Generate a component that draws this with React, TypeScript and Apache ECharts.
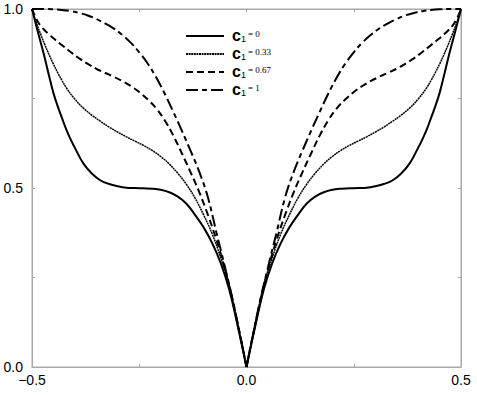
import React, { useEffect, useRef } from "react";
import * as echarts from "echarts";

const xTickLabels = ["−0.5", "0.0", "0.5"];
const yTickLabels = ["0.0", "0.5", "1.0"];

const seriesNames = ["0", "0.33", "0.67", "1"];

// c1 = 0
const c0Left: [number, number][] = [
  [-0.5, 1.0], [-0.49, 0.953], [-0.48, 0.908], [-0.47, 0.862], [-0.46, 0.812], [-0.45, 0.765],
  [-0.44, 0.728], [-0.43, 0.695], [-0.42, 0.663], [-0.41, 0.636], [-0.4, 0.612], [-0.38, 0.568],
  [-0.36, 0.54], [-0.34, 0.521], [-0.32, 0.511], [-0.3, 0.505], [-0.28, 0.501], [-0.26, 0.5],
  [-0.24, 0.499], [-0.22, 0.498], [-0.2, 0.495], [-0.18, 0.488], [-0.16, 0.476], [-0.14, 0.456],
  [-0.12, 0.425], [-0.1, 0.39], [-0.08, 0.346], [-0.06, 0.29], [-0.04, 0.215], [-0.02, 0.112],
  [-0.01, 0.057], [0, 0],
];
const c0Right: [number, number][] = [
  [0, 0], [0.01, 0.057], [0.02, 0.112], [0.04, 0.215], [0.06, 0.29], [0.08, 0.346], [0.1, 0.39],
  [0.12, 0.425], [0.14, 0.456], [0.16, 0.476], [0.18, 0.488], [0.2, 0.495], [0.22, 0.498],
  [0.24, 0.499], [0.26, 0.5], [0.28, 0.501], [0.3, 0.505], [0.32, 0.511], [0.34, 0.521],
  [0.36, 0.54], [0.38, 0.568], [0.4, 0.612], [0.41, 0.636], [0.42, 0.663], [0.43, 0.695],
  [0.44, 0.728], [0.45, 0.765], [0.46, 0.812], [0.47, 0.862], [0.48, 0.908], [0.49, 0.953],
  [0.5, 1.0],
];

// c1 = 0.33
const c33Left: [number, number][] = [
  [-0.5, 1.0], [-0.49, 0.962], [-0.48, 0.93], [-0.47, 0.9], [-0.46, 0.872], [-0.45, 0.846],
  [-0.44, 0.822], [-0.43, 0.8], [-0.42, 0.78], [-0.4, 0.748], [-0.38, 0.723], [-0.36, 0.703],
  [-0.34, 0.686], [-0.32, 0.67], [-0.3, 0.656], [-0.28, 0.643], [-0.26, 0.631], [-0.24, 0.619],
  [-0.22, 0.605], [-0.2, 0.588], [-0.18, 0.567], [-0.16, 0.541], [-0.14, 0.51], [-0.12, 0.472],
  [-0.1, 0.425], [-0.08, 0.372], [-0.06, 0.305], [-0.04, 0.228], [-0.02, 0.118], [-0.01, 0.06],
  [0, 0],
];
const c33Right: [number, number][] = [
  [0, 0], [0.01, 0.06], [0.02, 0.118], [0.04, 0.228], [0.06, 0.305], [0.08, 0.372], [0.1, 0.425],
  [0.12, 0.472], [0.14, 0.51], [0.16, 0.541], [0.18, 0.567], [0.2, 0.588], [0.22, 0.605],
  [0.24, 0.619], [0.26, 0.631], [0.28, 0.643], [0.3, 0.656], [0.32, 0.67], [0.34, 0.686],
  [0.36, 0.703], [0.38, 0.723], [0.4, 0.748], [0.42, 0.78], [0.43, 0.8], [0.44, 0.822],
  [0.45, 0.846], [0.46, 0.872], [0.47, 0.9], [0.48, 0.93], [0.49, 0.962], [0.5, 1.0],
];

// c1 = 0.67
const c67Left: [number, number][] = [
  [-0.5, 1.0], [-0.49, 0.972], [-0.48, 0.953], [-0.47, 0.94], [-0.46, 0.929], [-0.45, 0.918],
  [-0.43, 0.899], [-0.41, 0.88], [-0.39, 0.862], [-0.37, 0.847], [-0.35, 0.833], [-0.33, 0.822],
  [-0.31, 0.811], [-0.29, 0.799], [-0.27, 0.785], [-0.25, 0.768], [-0.23, 0.747], [-0.21, 0.722],
  [-0.19, 0.688], [-0.17, 0.645], [-0.15, 0.595], [-0.13, 0.543], [-0.11, 0.488], [-0.09, 0.425],
  [-0.07, 0.355], [-0.05, 0.272], [-0.03, 0.172], [-0.01, 0.06], [0, 0],
];
const c67Right: [number, number][] = [
  [0, 0], [0.01, 0.06], [0.03, 0.172], [0.05, 0.272], [0.07, 0.355], [0.09, 0.425], [0.11, 0.488],
  [0.13, 0.543], [0.15, 0.595], [0.17, 0.645], [0.19, 0.688], [0.21, 0.722], [0.23, 0.747],
  [0.25, 0.768], [0.27, 0.785], [0.29, 0.799], [0.31, 0.811], [0.33, 0.822], [0.35, 0.833],
  [0.37, 0.847], [0.39, 0.862], [0.41, 0.88], [0.43, 0.899], [0.45, 0.918], [0.46, 0.929],
  [0.47, 0.94], [0.48, 0.953], [0.49, 0.972], [0.5, 1.0],
];

// c1 = 1
const c1Left: [number, number][] = [
  [-0.5, 1.0], [-0.47, 1.0], [-0.45, 0.999], [-0.43, 0.997], [-0.41, 0.994], [-0.39, 0.989],
  [-0.37, 0.982], [-0.35, 0.972], [-0.33, 0.96], [-0.31, 0.946], [-0.29, 0.928], [-0.27, 0.906],
  [-0.25, 0.879], [-0.23, 0.847], [-0.21, 0.808], [-0.19, 0.762], [-0.17, 0.711], [-0.15, 0.658],
  [-0.13, 0.603], [-0.11, 0.545], [-0.09, 0.474], [-0.07, 0.375], [-0.05, 0.278], [-0.03, 0.176],
  [-0.01, 0.06], [0, 0],
];
const c1Right: [number, number][] = [
  [0, 0], [0.01, 0.06], [0.03, 0.176], [0.05, 0.278], [0.07, 0.375], [0.09, 0.474], [0.11, 0.545],
  [0.13, 0.603], [0.15, 0.658], [0.17, 0.711], [0.19, 0.762], [0.21, 0.808], [0.23, 0.847],
  [0.25, 0.879], [0.27, 0.906], [0.29, 0.928], [0.31, 0.946], [0.33, 0.96], [0.35, 0.972],
  [0.37, 0.982], [0.39, 0.989], [0.41, 0.994], [0.43, 0.997], [0.45, 0.999], [0.47, 1.0],
  [0.5, 1.0],
];

const FRAME = "#a8a8a8";
const FONT = "Liberation Sans";

function labelFor(v: number, labels: string[], min: number) {
  const k = Math.round((v - min) / 0.5);
  if (Math.abs(v - (min + k * 0.5)) > 1e-6) return "";
  return labels[k] ?? "";
}

export default function App() {
  const ref = useRef<HTMLDivElement>(null);
  useEffect(() => {
    if (!ref.current) return;
    const chart = echarts.init(ref.current, undefined, { renderer: "svg" });

    const styles = [
      { width: 2, type: "solid" as any },
      { width: 1.5, type: [2, 0.6] as any },
      { width: 2, type: [7, 4] as any },
      { width: 2, type: [12, 4, 5, 4] as any },
    ];
    const halves = [
      [c0Left, c0Right],
      [c33Left, c33Right],
      [c67Left, c67Right],
      [c1Left, c1Right],
    ];
    const series: any[] = [];
    halves.forEach((pair, i) => {
      pair.forEach((data) => {
        series.push({
          type: "line",
          name: seriesNames[i],
          data,
          symbol: "none",
          showSymbol: false,
          smooth: 0.4,
          lineStyle: { color: "#000", width: styles[i].width, type: styles[i].type },
          itemStyle: { color: "#000" },
          z: 5 - i,
        });
      });
    });

    const axisCommon = {
      type: "value" as const,
      min: -0.5,
      max: 0.5,
      interval: 0.25,
      splitLine: { show: false },
      axisLine: { show: true, onZero: false, lineStyle: { color: FRAME, width: 1 } },
      axisTick: { show: true, inside: true, length: 3, lineStyle: { color: FRAME } },
    };

    chart.setOption({
      animation: false,
      grid: {
        left: 32,
        top: 9,
        right: 16,
        bottom: 28,
        show: true,
        borderColor: FRAME,
        borderWidth: 1,
      },
      legend: {
        data: seriesNames,
        orient: "vertical",
        left: 185,
        top: 27,
        padding: 0,
        itemWidth: 38,
        itemHeight: 14,
        itemGap: 2,
        selectedMode: false,
        itemStyle: { color: "rgba(0,0,0,0)", borderColor: "rgba(0,0,0,0)", borderWidth: 0, opacity: 0 },
        formatter: (name: string) => `{c|c}{s|1}{p|= ${name}}`,
        textStyle: {
          color: "#000",
          rich: {
            c: {
              fontFamily: FONT,
              fontWeight: "bold",
              fontSize: 16,
              color: "#000",
              lineHeight: 14,
              verticalAlign: "bottom",
              padding: [0, 0, 0, 3],
            },
            s: {
              fontFamily: FONT,
              fontSize: 9,
              color: "#000",
              lineHeight: 6,
              verticalAlign: "bottom",
            },
            p: {
              fontFamily: "Liberation Serif",
              fontSize: 9,
              color: "#000",
              lineHeight: 9,
              verticalAlign: "top",
              padding: [0, 0, 0, 2],
            },
          },
        },
      },
      xAxis: [
        {
          ...axisCommon,
          position: "bottom",
          axisLabel: {
            color: "#000",
            fontFamily: FONT,
            fontSize: 14,
            margin: 6,
            formatter: (v: number) => labelFor(v, xTickLabels, -0.5),
          },
        },
        {
          ...axisCommon,
          position: "top",
          axisLabel: { show: false },
        },
      ],
      yAxis: [
        {
          ...axisCommon,
          min: 0,
          max: 1,
          position: "left",
          axisLabel: {
            color: "#000",
            fontFamily: FONT,
            fontSize: 14,
            margin: 9,
            formatter: (v: number) => labelFor(v, yTickLabels, 0),
          },
        },
        {
          ...axisCommon,
          min: 0,
          max: 1,
          position: "right",
          axisLabel: { show: false },
        },
      ],
      series,
    });
    return () => chart.dispose();
  }, []);

  return (
    <div
      ref={ref}
      style={{ position: "fixed", left: 0, top: 0, width: 477, height: 395, background: "#fff" }}
    />
  );
}
